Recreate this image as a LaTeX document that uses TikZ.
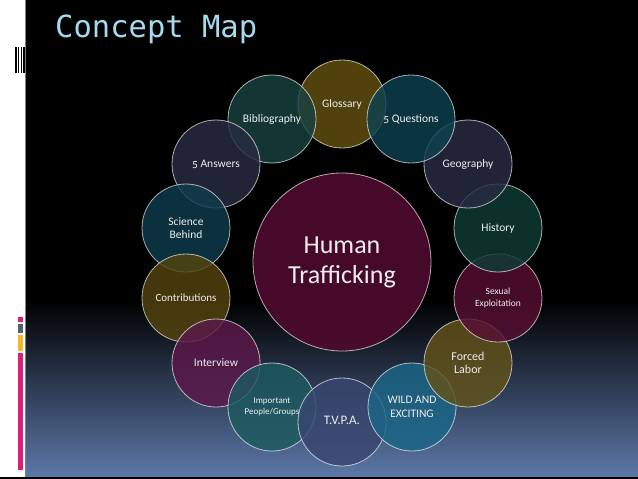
\documentclass[tikz,border=0pt]{standalone}
\usepackage{fontspec}
\setmainfont{Carlito}[Numbers=OldStyle]
\newfontfamily\titlefont{DejaVu Sans Mono}
\definecolor{bgbottom}{RGB}{92,120,168}
\definecolor{baseline}{RGB}{175,195,225}
\definecolor{titleblue}{RGB}{165,218,238}
\definecolor{barpink}{RGB}{218,30,122}
\definecolor{bargray}{RGB}{85,95,110}
\definecolor{baryellow}{RGB}{245,185,35}
\definecolor{cglossary}{RGB}{98,80,16}
\definecolor{cbiblio}{RGB}{24,66,64}
\definecolor{cfiveq}{RGB}{14,64,80}
\definecolor{cslate}{RGB}{40,44,66}
\definecolor{cscience}{RGB}{14,60,76}
\definecolor{chistory}{RGB}{14,60,52}
\definecolor{ccontrib}{RGB}{84,68,14}
\definecolor{csexual}{RGB}{86,14,50}
\definecolor{cinterview}{RGB}{92,24,74}
\definecolor{cforced}{RGB}{98,82,26}
\definecolor{cimportant}{RGB}{28,90,94}
\definecolor{cwild}{RGB}{26,102,134}
\definecolor{ctvpa}{RGB}{56,70,112}
\definecolor{ccenter}{RGB}{74,10,44}
\definecolor{textlight}{RGB}{238,238,238}
\tikzset{
  bub/.style={circle, minimum size=88pt, inner sep=0pt, align=center,
    draw=white, draw opacity=0.65, line width=0.8pt, fill opacity=0.82,
    text opacity=1, text=textlight, font=\fontsize{11.5}{13.5}\selectfont},
  hub/.style={bub, minimum size=178pt, fill opacity=0.95,
    font=\fontsize{26}{30}\selectfont},
}
\begin{document}
\begin{tikzpicture}[x=1pt,y=-1pt]
\useasboundingbox (0,0) rectangle (638,479);
% background
\fill[white] (0,0) rectangle (638,479);
\fill[black] (25,0) rectangle (638,300);
\shade[top color=black, bottom color=bgbottom] (25,300) rectangle (638,477);
\fill[baseline] (0,477) rectangle (638,479);
\draw[gray, line width=0.8pt] (25,0) -- (25,477);
% barcode
\foreach \a/\b in {15/16.7, 18/19.3, 20.7/22, 23/25}
  \fill[black] (\a,47) rectangle (\b,73);
% colour bars
\fill[barpink] (18,317) rectangle (23,322);
\fill[bargray] (18,323.5) rectangle (23,333);
\fill[baryellow] (18,334.5) rectangle (23,351);
\fill[barpink] (18,352.5) rectangle (23,470);
% title
\node[anchor=base west, inner sep=0pt, text=titleblue,
  font=\titlefont\fontsize{30.5}{32}\selectfont] (title) at (55,37) {Concept Map};
% center
\node[hub, fill=ccenter] (center) at (342,262) {Human\\Trafficking};
% ring
\node[bub, fill=cglossary] (glossary) at (342,104) {Glossary};
\node[bub, fill=cbiblio] (biblio) at (272,119) {Bibliography};
\node[bub, fill=cslate] (fivea) at (216,164) {5 Answers};
\node[bub, fill=cscience] (science) at (186,228) {Science\\Behind};
\node[bub, fill=ccontrib, font=\fontsize{11}{13}\selectfont] (contrib) at (186,298) {Contributions};
\node[bub, fill=cinterview] (interview) at (216,363) {Interview};
\node[bub, fill=cimportant, font=\fontsize{9}{10.5}\selectfont] (important) at (272,407) {Important\\People/Groups};
\node[bub, fill=ctvpa, font=\fontsize{13}{15}\selectfont, text depth=4pt] (tvpa) at (342,422) {T.V.P.A.};
\node[bub, fill=cwild, font=\fontsize{11.5}{13.5}\selectfont] (wild) at (412,407) {WILD AND\\EXCITING};
\node[bub, fill=cforced, font=\fontsize{12}{13.5}\selectfont] (forced) at (468,363) {Forced\\Labor};
\node[bub, fill=csexual, font=\fontsize{9.5}{11.5}\selectfont] (sexual) at (498,298) {Sexual\\Exploitation};
\node[bub, fill=chistory] (history) at (498,228) {History};
\node[bub, fill=cslate] (geography) at (468,164) {Geography};
\node[bub, fill=cfiveq] (fiveq) at (411,119) {5 Questions};
\end{tikzpicture}
\end{document}
